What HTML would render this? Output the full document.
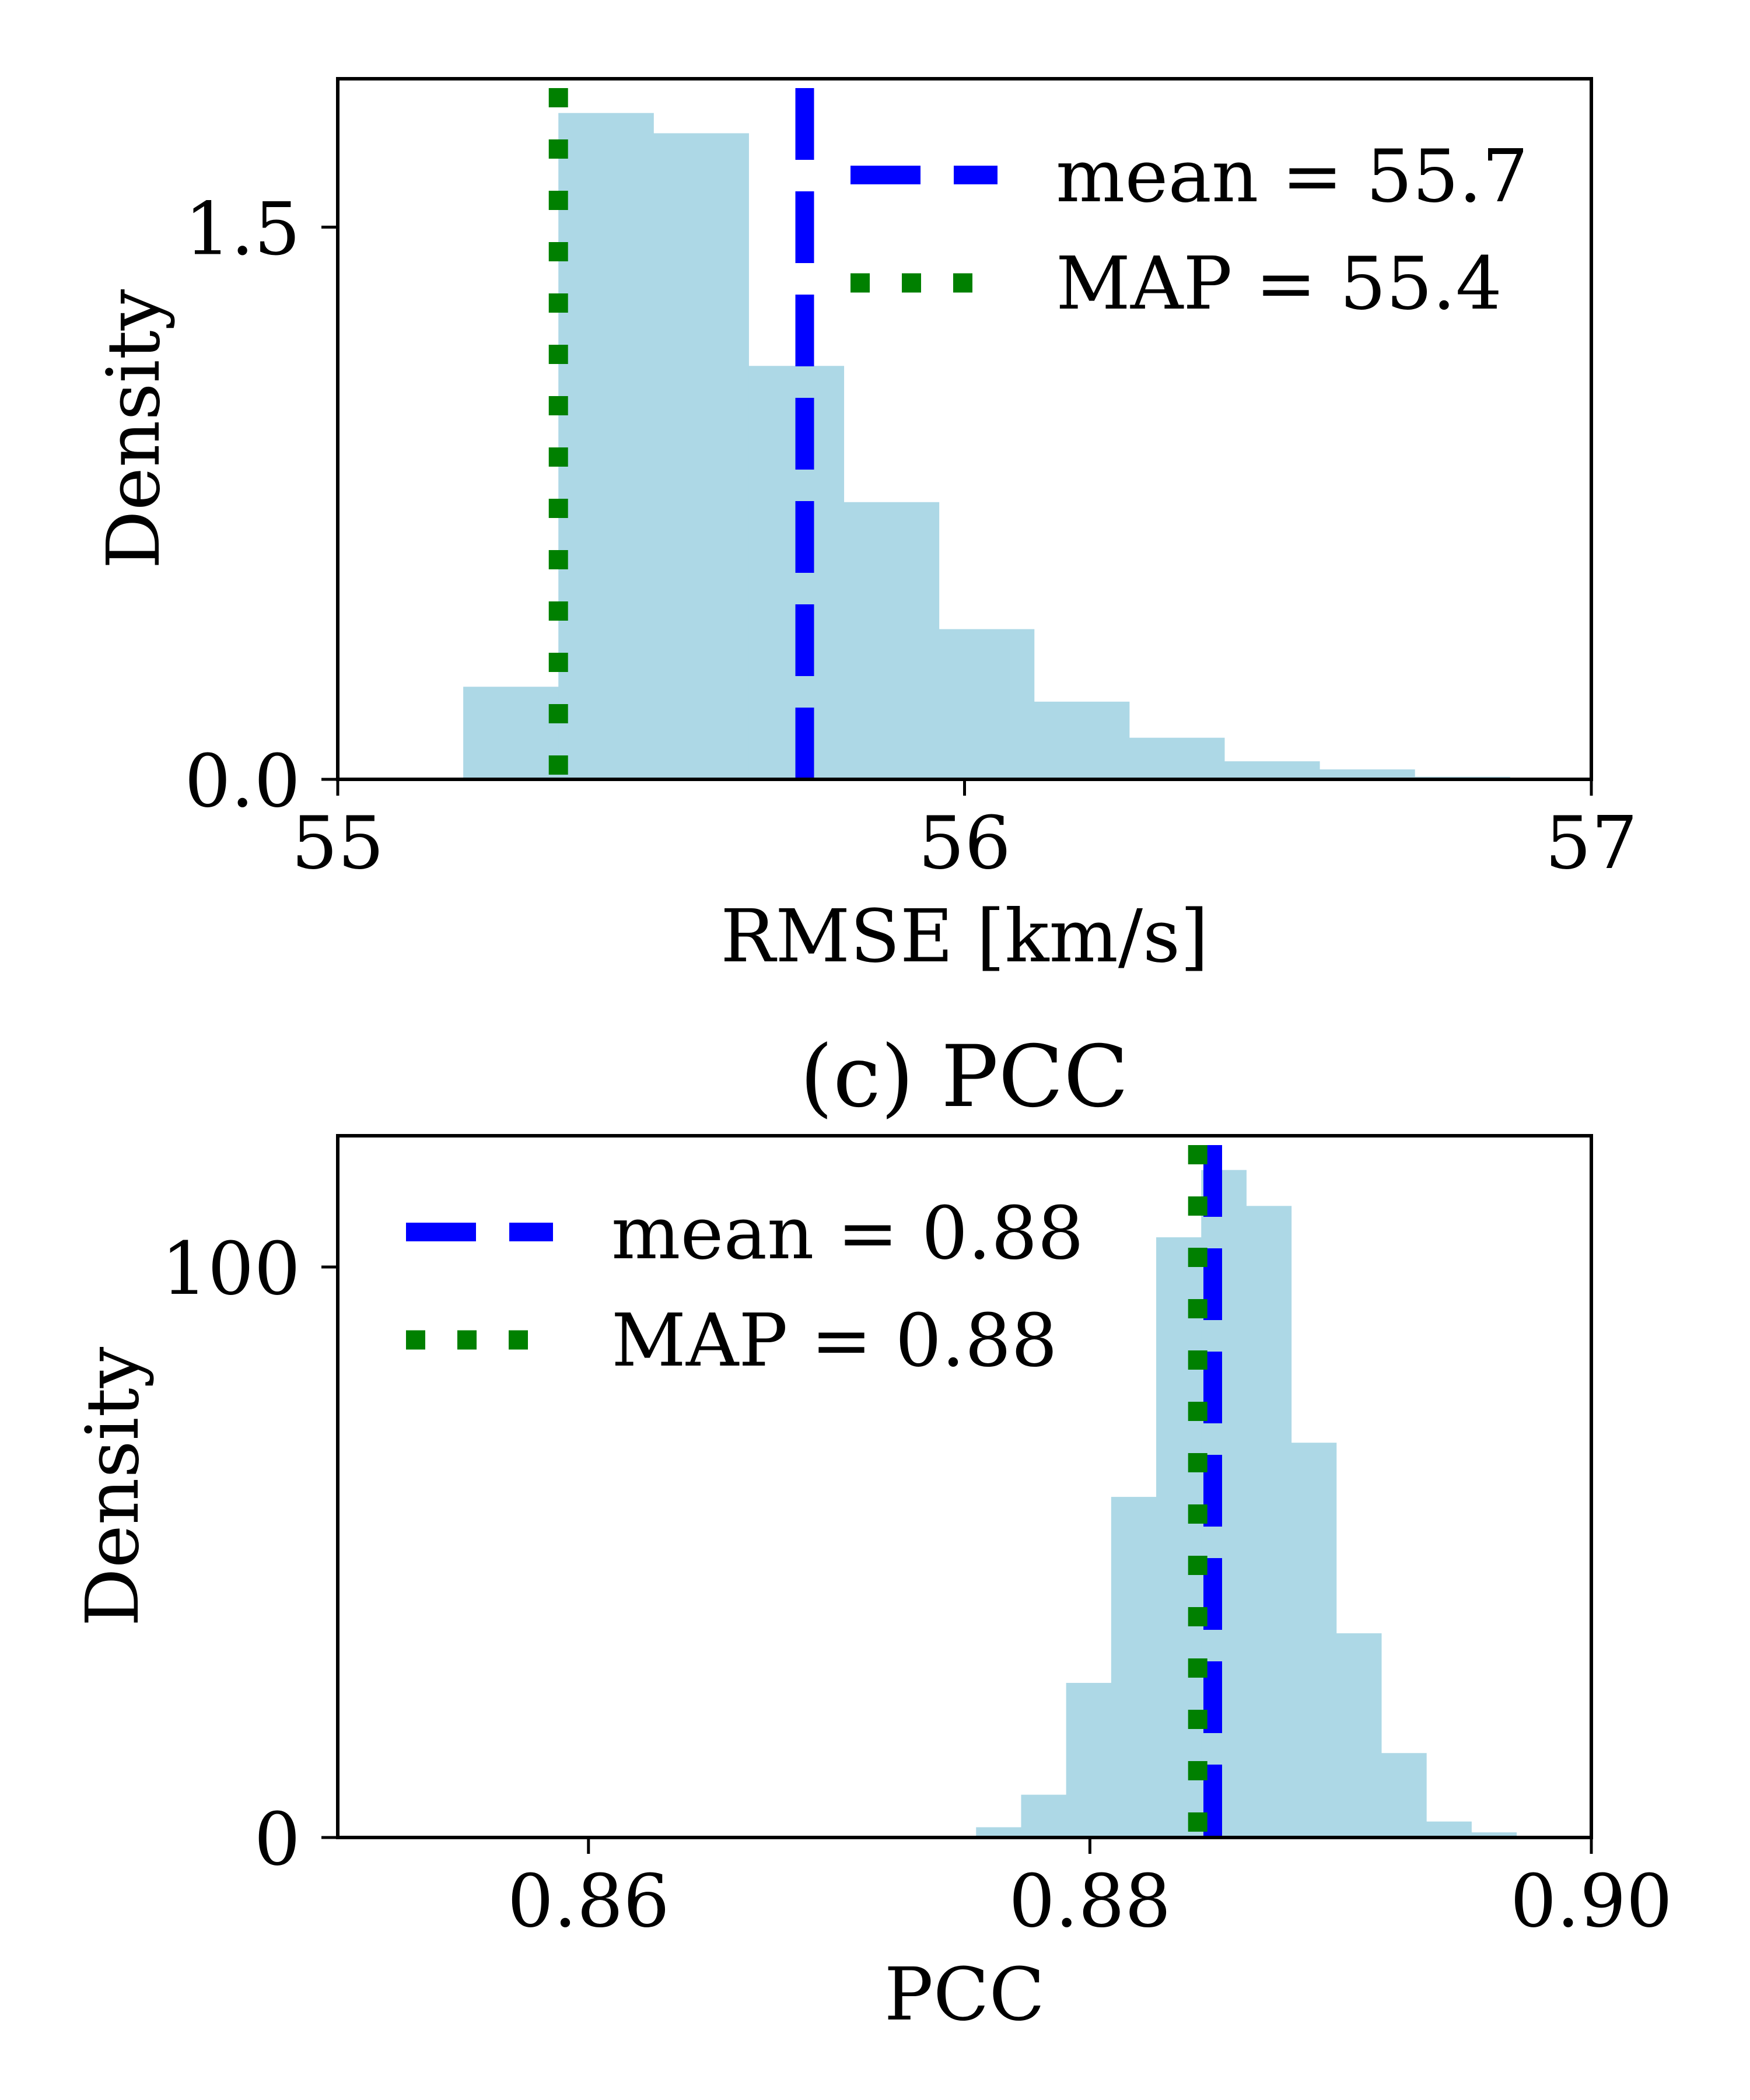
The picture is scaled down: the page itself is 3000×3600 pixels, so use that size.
<!DOCTYPE html>
<html><head><meta charset="utf-8"><style>
html,body{margin:0;padding:0;background:#fff;}
svg{display:block;}
text{font-family:"DejaVu Serif","Liberation Serif",serif;fill:#000;}
</style></head><body>
<svg id="chart" width="3000" height="3600" viewBox="0 0 3000 3600" xmlns="http://www.w3.org/2000/svg"></svg>
<script>
// ---- Panel A: RMSE ----
const rmseStart = 55.2002;
const rmseBinWidth = 0.1518;
const rmseDensity = [0.2515,1.810,1.755,1.123,0.753,0.408,0.211,0.113,0.049,0.027,0.007];
const rmseXTicks = [55,56,57];
const rmseXTickLabels = ["55","56","57"];
const rmseYTicks = [0,1.5];
const rmseYTickLabels = ["0.0","1.5"];
const rmseMean = 55.745;
const rmseMAP = 55.352;
const rmseLegend = ["mean = 55.7","MAP = 55.4"];
// ---- Panel C: PCC ----
const pccStart = 0.87546;
const pccBinWidth = 0.001796;
const pccDensity = [1.8,7.5,27.1,59.7,105.2,117.0,110.7,69.2,35.8,14.8,2.8,0.9];
const pccXTicks = [0.86,0.88,0.90];
const pccXTickLabels = ["0.86","0.88","0.90"];
const pccYTicks = [0,100];
const pccYTickLabels = ["0","100"];
const pccMean = 0.8849;
const pccMAP = 0.8843;
const pccLegend = ["mean = 0.88","MAP = 0.88"];

const NS = "http://www.w3.org/2000/svg";
const svg = document.getElementById('chart');
function mk(tag, attrs, parent){
  const e = document.createElementNS(NS, tag);
  for (const k in attrs) e.setAttribute(k, attrs[k]);
  (parent||svg).appendChild(e);
  return e;
}
const FS = 125;

function panel(cfg){
  const g = mk('g', {});
  
  
  const L=579, R=2728, T=cfg.top, B=cfg.bottom;
  const sx = v => L + (v - cfg.xmin)/(cfg.xmax - cfg.xmin)*(R-L);
  const sy = v => B - (v - cfg.ymin)/(cfg.ymax - cfg.ymin)*(B-T);
  cfg.density.forEach((d,i)=>{
    const x0 = sx(cfg.start + i*cfg.bw), x1 = sx(cfg.start + (i+1)*cfg.bw);
    const r = mk('rect', {x:x0, y:sy(d), width:x1-x0+0.5, height:B-sy(d), fill:'#add8e6'}, g);
    
    
  });
  const lineTop = T + 16;
  const ml = mk('line', {x1:sx(cfg.mean), x2:sx(cfg.mean), y1:lineTop, y2:B, stroke:'#0000ff', 'stroke-width':32, 'stroke-dasharray':'123 54'}, g);
  
  
  const pl = mk('line', {x1:sx(cfg.map), x2:sx(cfg.map), y1:lineTop, y2:B, stroke:'#008000', 'stroke-width':33, 'stroke-dasharray':'33 55'}, g);
  
  
  const fr = mk('rect', {x:L, y:T, width:R-L, height:B-T, fill:'none', stroke:'#000', 'stroke-width':6}, g);
  
  
  cfg.xticks.forEach((v,i)=>{
    const x = sx(v);
    mk('line', {x1:x, x2:x, y1:B, y2:B+28, stroke:'#000', 'stroke-width':5}, g);
    const t = mk('text', {x:x, y:B+152, 'font-size':FS, 'text-anchor':'middle'}, g);
    
    
    t.textContent = cfg.xlabels[i];
  });
  cfg.yticks.forEach((v,i)=>{
    const y = sy(v);
    mk('line', {x1:L-28, x2:L, y1:y, y2:y, stroke:'#000', 'stroke-width':5}, g);
    const t = mk('text', {x:L-64, y:y+46, 'font-size':FS, 'text-anchor':'end'}, g);
    
    
    t.textContent = cfg.ylabels[i];
  });
  const xl = mk('text', {x:(L+R)/2, y:cfg.xlabelY, 'font-size':FS, 'text-anchor':'middle'}, g);
  
  
  xl.textContent = cfg.xtitle;
  const yl = mk('text', {x:0, y:0, 'font-size':FS, 'text-anchor':'middle', transform:`translate(${cfg.ylabelX},${(T+B)/2}) rotate(-90)`}, g);
  
  
  yl.textContent = 'Density';
  const lg = mk('g', {}, g);
  
  
  mk('line', {x1:cfg.legX, x2:cfg.legX+252, y1:cfg.legY, y2:cfg.legY, stroke:'#0000ff', 'stroke-width':32, 'stroke-dasharray':'120 57'}, lg);
  mk('line', {x1:cfg.legX, x2:cfg.legX+252, y1:cfg.legY+185, y2:cfg.legY+185, stroke:'#008000', 'stroke-width':33, 'stroke-dasharray':'33 55'}, lg);
  cfg.legend.forEach((s,i)=>{
    const t = mk('text', {x:cfg.legX+352, y:cfg.legY+45+i*184, 'font-size':FS}, lg);
    
    
    t.textContent = s;
  });
}

panel({name:'rmse-panel', top:135, bottom:1336, xmin:55, xmax:57, ymin:0, ymax:1.903,
  start:rmseStart, bw:rmseBinWidth, density:rmseDensity, mean:rmseMean, map:rmseMAP,
  xticks:rmseXTicks, xlabels:rmseXTickLabels, yticks:rmseYTicks, ylabels:rmseYTickLabels,
  xtitle:'RMSE [km/s]', xlabelY:1648, ylabelX:272, legX:1458, legY:300, legend:rmseLegend});

const title = mk('text', {x:1653, y:1896, 'font-size':146, 'text-anchor':'middle'});


title.textContent = '(c) PCC';

panel({name:'pcc-panel', top:1947, bottom:3150, xmin:0.85, xmax:0.90, ymin:0, ymax:123.0,
  start:pccStart, bw:pccBinWidth, density:pccDensity, mean:pccMean, map:pccMAP,
  xticks:pccXTicks, xlabels:pccXTickLabels, yticks:pccYTicks, ylabels:pccYTickLabels,
  xtitle:'PCC', xlabelY:3462, ylabelX:236, legX:696, legY:2112, legend:pccLegend});
</script>
</body></html>
